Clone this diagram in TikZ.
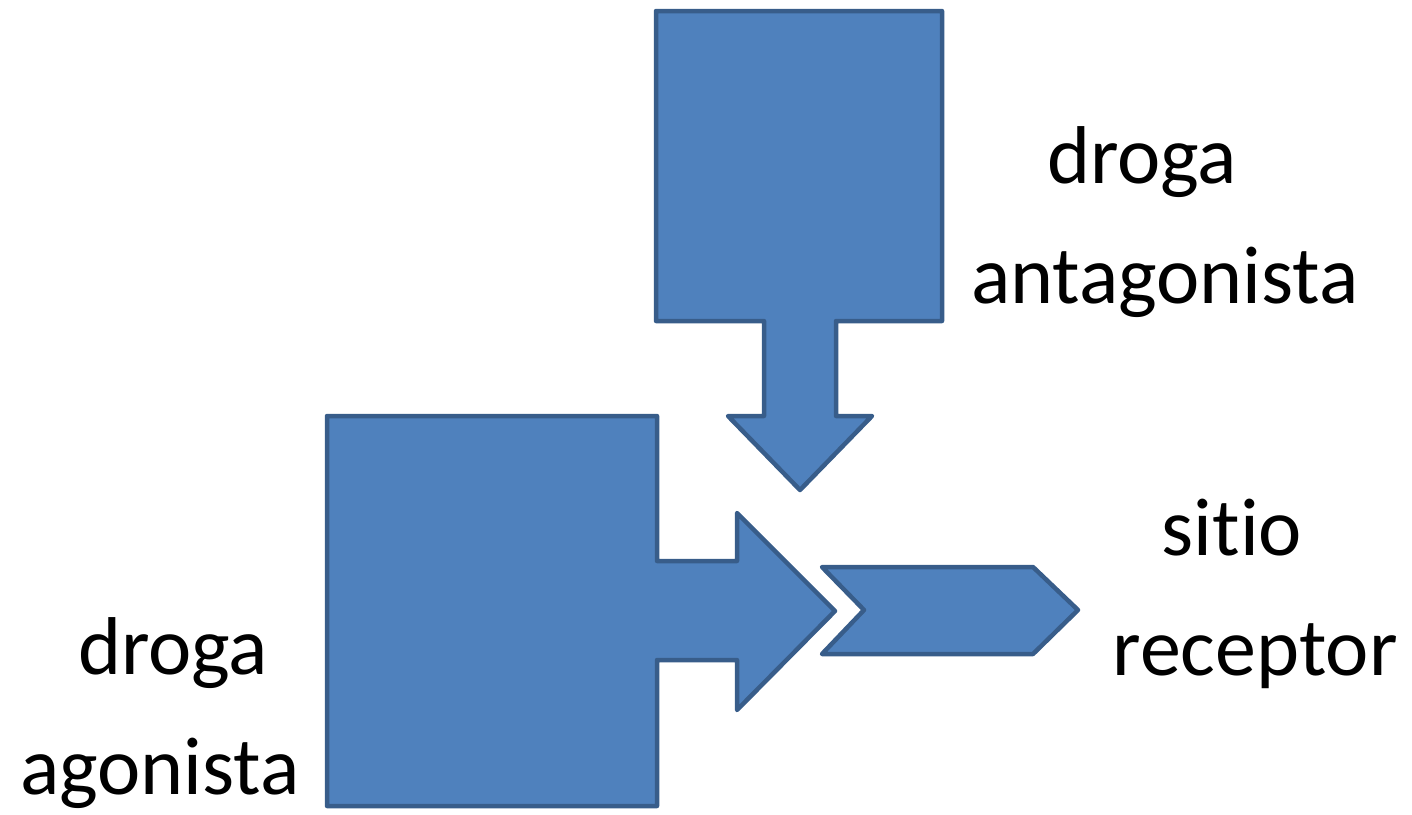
\documentclass[tikz,border=0pt]{standalone}
\usepackage{fontspec}
\setmainfont[Ligatures={NoCommon}]{Carlito}
\definecolor{shapefill}{HTML}{4F81BD}
\definecolor{shapeline}{HTML}{385D8A}
\begin{document}
\begin{tikzpicture}[x=1pt,y=-1pt,
  blockshape/.style={fill=shapefill,draw=shapeline,line width=4.5pt,line join=round},
  label/.style={align=center,inner sep=0pt,font=\fontsize{82}{120}\selectfont,anchor=base}]
\useasboundingbox (0,0) rectangle (1412,814);

% antagonist: box with a downward arrow
\draw[blockshape] (656,11) -- (942,11) -- (942,321) -- (836,321) -- (836,416)
  -- (872,416) -- (800,490) -- (728,416) -- (764,416) -- (764,321)
  -- (656,321) -- cycle;

% agonist: box with a rightward arrow
\draw[blockshape] (327,416) -- (657,416) -- (657,561) -- (737,561) -- (737,513)
  -- (835,611) -- (737,710) -- (737,660) -- (657,660) -- (657,806)
  -- (327,806) -- cycle;

% receptor site: notched chevron
\draw[blockshape] (822,567) -- (1033,567) -- (1078,610) -- (1033,654)
  -- (822,654) -- (864,610) -- cycle;

% labels (base anchor sits on the last line)
\node[label] (antag) at (1165,303) {droga\hspace*{46pt}\\antagonista};
\node[label] (site) at (1255,675) {sitio\hspace*{46pt}\\receptor};
\node[label] (agon) at (160,794) {\hspace*{26pt}droga\\agonista};
\end{tikzpicture}
\end{document}
